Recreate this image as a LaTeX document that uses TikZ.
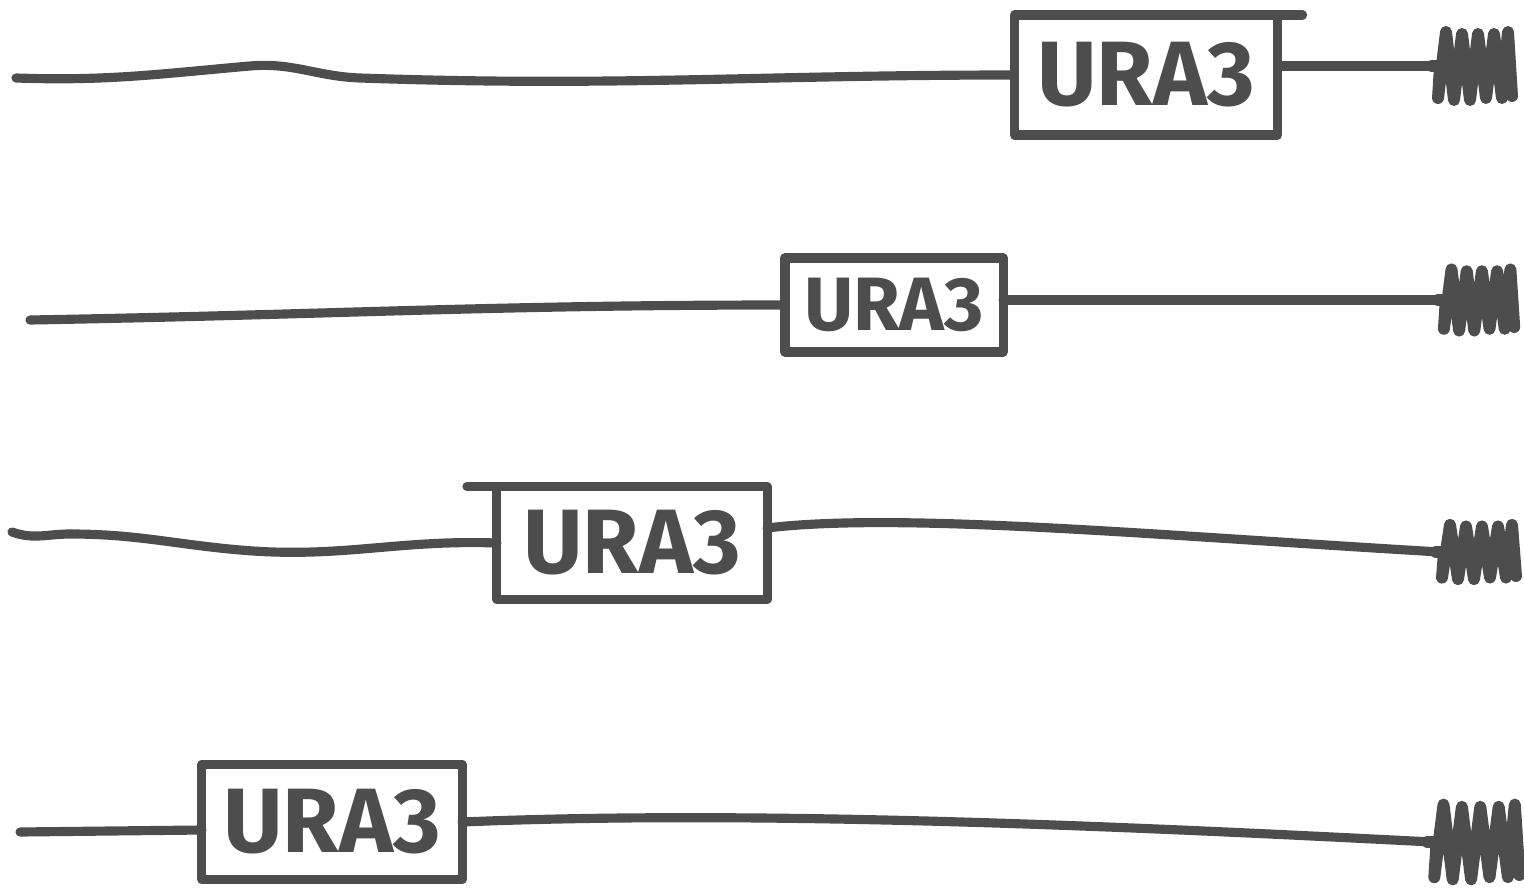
\documentclass[tikz,border=0pt]{standalone}
\usepackage{fontspec}
\setsansfont{Fira Sans}
\usetikzlibrary{positioning}

\definecolor{ink}{HTML}{4D4D4D}

\tikzset{
  wire/.style={draw=ink, line width=2.6pt, line cap=round, line join=round},
  gene/.style={wire, rectangle, inner sep=0pt, outer sep=0pt, text=ink,
    font=\sffamily\bfseries\fontsize{26}{26}\selectfont},
  % telomere end: a tight zigzag of strokes
  telo/.pic={\draw[wire, line width=3.4pt]
    (-4,0) -- (4,0) -- (2,32) -- (10,-34) -- (18,34) -- (26,-32) -- (34,34)
    -- (42,-32) -- (50,32) -- (58,-32) -- (66,32) -- (72,-34) -- (76,30);}
}

\begin{document}
\begin{tikzpicture}[x=0.01cm, y=-0.01cm]
  \useasboundingbox (0,0) rectangle (1524,888);

  % row 1
  \coordinate (l1) at (16,78);
  \coordinate (w1) at (250,66);
  \node[gene, minimum width=2.63cm, minimum height=1.2cm] (g1) at (1146,75) {URA3};
  \coordinate (t1) at (1436,66);
  \draw[wire] (l1) to[out=-2,in=185] (w1) to[out=5,in=178] (360,78)
    to[out=-2,in=180] (g1.west);
  \draw[wire] (g1.east |- t1) -- (t1);
  \draw[wire] (g1.north east) -- ++(25,0);
  \pic at (t1) {telo};

  % row 2
  \coordinate (l2) at (30,320);
  \node[gene, minimum width=2.18cm, minimum height=0.94cm,
    font=\sffamily\bfseries\fontsize{21.5}{22}\selectfont] (g2) at (894,305) {URA3};
  \coordinate (t2) at (1442,300);
  \draw[wire] (l2) to[out=1,in=180] (g2.west);
  \draw[wire] (g2.east |- t2) -- (t2);
  \pic[yscale=0.9, xscale=0.95] at (t2) {telo};

  % row 3
  \coordinate (l3) at (12,532);
  \coordinate (w3) at (240,550);
  \node[gene, minimum width=2.7cm, minimum height=1.13cm] (g3) at (632,543) {URA3};
  \coordinate (t3) at (1440,552);
  \draw[wire] (l3) to[out=-20,in=180] (70,534) to[out=0,in=175] (w3)
    to[out=-5,in=178] (g3.west);
  \draw[wire] ([yshift=0.15cm]g3.east) .. controls (900,512) and (1150,535) .. (t3);
  \draw[wire] (g3.north west) -- ++(-30,0);
  \pic[yscale=0.8] at (t3) {telo};

  % row 4
  \coordinate (l4) at (20,832);
  \node[gene, minimum width=2.6cm, minimum height=1.15cm] (g4) at (332,822) {URA3};
  \coordinate (t4) at (1432,842);
  \draw[wire] (l4) -- ([yshift=-0.08cm]g4.west);
  \draw[wire] (g4.east) .. controls (750,810) and (1100,825) .. (t4);
  \pic[yscale=1.1, xscale=1.15] at (t4) {telo};
\end{tikzpicture}
\end{document}
